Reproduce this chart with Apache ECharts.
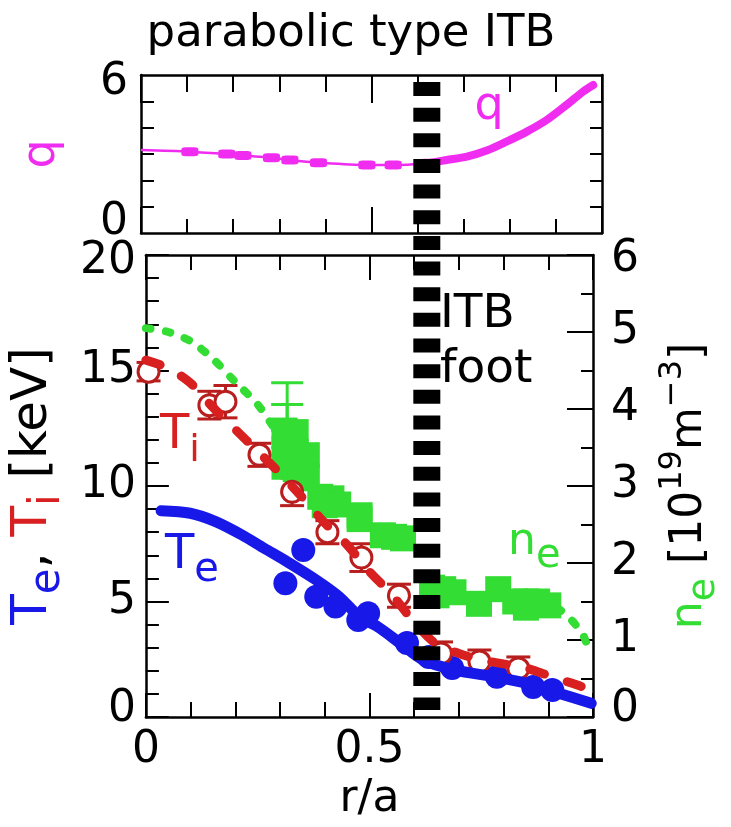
<!DOCTYPE html>
<html>
<head>
<meta charset="utf-8">
<title>parabolic type ITB</title>
<script src="https://cdn.jsdelivr.net/npm/echarts@6/dist/echarts.min.js"></script>
<style>
  html, body { margin: 0; padding: 0; background: #fff; }
  #chart { width: 731px; height: 827px; }
</style>
</head>
<body>
<div id="chart"></div>
<script>
// safety factor q (top panel); points up to the ITB foot, dense fit outside
const qR = [0, 0.106, 0.186, 0.221, 0.283, 0.323, 0.385, 0.49, 0.547, 0.623, 0.663, 0.707, 0.75, 0.793, 0.837, 0.88, 0.923, 0.959, 0.981]
const qV = [3.15, 3.09, 3.0, 2.94, 2.86, 2.77, 2.67, 2.58, 2.58, 2.65, 2.77, 2.9, 3.13, 3.47, 3.85, 4.29, 4.86, 5.37, 5.62]
const qFoot = 9

// electron temperature Te [keV]
const teFitR = [0.034, 0.099, 0.156, 0.215, 0.265, 0.316, 0.381, 0.432, 0.48, 0.518, 0.569, 0.62, 0.692, 0.779, 0.851, 0.923, 0.996]
const teFitV = [8.93, 8.82, 8.46, 7.88, 7.3, 6.72, 5.93, 5.21, 4.3, 3.91, 3.19, 2.47, 2.03, 1.74, 1.46, 1.03, 0.59]
const teR = [0.312, 0.352, 0.381, 0.424, 0.475, 0.497, 0.584, 0.633, 0.685, 0.785, 0.866, 0.909]
const teV = [5.79, 7.23, 5.21, 4.78, 4.2, 4.49, 3.2, 2.6, 2.12, 1.74, 1.3, 1.17]

// ion temperature Ti [keV]
const tiFitR = [0, 0.05, 0.1, 0.15, 0.2, 0.25, 0.3, 0.35, 0.4, 0.45, 0.5, 0.55, 0.6, 0.65, 0.7, 0.75, 0.8, 0.85, 0.9, 0.95, 1.0]
const tiFitV = [15.45, 15.1, 14.45, 13.4, 12.45, 11.5, 10.55, 9.5, 8.4, 7.45, 6.3, 5.3, 4.1, 3.15, 2.75, 2.47, 2.3, 2.12, 1.8, 1.48, 1.15]
const tiR = [0.006, 0.142, 0.178, 0.254, 0.327, 0.406, 0.482, 0.566, 0.66, 0.746, 0.833]
const tiV = [14.95, 13.5, 13.65, 11.35, 9.75, 8.0, 6.9, 5.25, 2.75, 2.4, 2.1]
const tiErr = [0.4, 0.6, 0.7, 0.5, 0.6, 0.5, 0.6, 0.5, 0.5, 0.5, 0.5]

// electron density ne [1e19 m^-3]
const neFitCoreR = [0, 0.05, 0.1, 0.15, 0.2, 0.25, 0.29]
const neFitCoreV = [5.05, 5.0, 4.88, 4.65, 4.35, 4.06, 3.72]
const neFitEdgeR = [0.92, 0.945, 0.965, 0.98, 0.993]
const neFitEdgeV = [1.42, 1.3, 1.17, 1.04, 0.83]
const neR = [0.31, 0.335, 0.31, 0.335, 0.31, 0.335, 0.36, 0.36, 0.345, 0.39, 0.415, 0.43, 0.40, 0.478, 0.478, 0.53, 0.555, 0.575, 0.64, 0.665, 0.688, 0.65, 0.745, 0.788, 0.826, 0.85, 0.875, 0.90, 0.85]
const neV = [3.72, 3.70, 3.48, 3.45, 3.25, 3.22, 3.40, 3.12, 3.10, 2.86, 2.84, 2.76, 2.75, 2.62, 2.57, 2.36, 2.34, 2.32, 1.68, 1.66, 1.62, 1.58, 1.47, 1.66, 1.5, 1.5, 1.5, 1.45, 1.42]
const neBarR = [0.316, 0.316]
const neBarLo = [3.72, 3.5]
const neBarHi = [4.34, 4.06]

const itbFoot = 0.62

const FONT = 'DejaVu Sans'
const MAGENTA = '#f02cf0'
const RED = '#d82020'
const DARKRED = '#b81e1e'
const BLUE = '#1818e8'
const GREEN = '#33dd33'

function pairs(xs, ys) {
  return xs.map((x, i) => [x, ys[i]])
}

const axisLine = { onZero: false, lineStyle: { color: '#000', width: 2.5 } }
const tickLine = { color: '#000', width: 2 }

function xFrame(gridIndex, position, showLabel, major, minor) {
  return {
    type: 'value', gridIndex, position, min: 0, max: 1, interval: 0.5,
    axisLine,
    axisTick: { inside: true, length: major, lineStyle: tickLine },
    minorTick: { show: true, splitNumber: 5, length: minor, lineStyle: tickLine },
    splitLine: { show: false },
    axisLabel: { show: showLabel, fontFamily: FONT, fontSize: 44, color: '#000', margin: 12 }
  }
}

function yFrame(gridIndex, position, opts) {
  return Object.assign({
    type: 'value', gridIndex, position,
    axisLine,
    splitLine: { show: false }
  }, opts)
}

function edgeLabels(top, bottom) {
  const base = { fontFamily: FONT, fontSize: 44, color: '#000' }
  return {
    hi: Object.assign({ padding: [top, 0, 0, 0] }, base),
    lo: Object.assign({ padding: [0, 0, bottom, 0] }, base)
  }
}

function errorBars(capHalf, width) {
  return function (params, api) {
    const x = api.value(0)
    const lo = api.coord([x, api.value(1)])
    const hi = api.coord([x, api.value(2)])
    const style = { stroke: api.visual('color'), lineWidth: width }
    return {
      type: 'group',
      children: [
        { type: 'line', shape: { x1: lo[0], y1: lo[1], x2: hi[0], y2: hi[1] }, style },
        { type: 'line', shape: { x1: hi[0] - capHalf, y1: hi[1], x2: hi[0] + capHalf, y2: hi[1] }, style },
        { type: 'line', shape: { x1: lo[0] - capHalf, y1: lo[1], x2: lo[0] + capHalf, y2: lo[1] }, style }
      ]
    }
  }
}

const chart = echarts.init(document.getElementById('chart'))

chart.setOption({
  animation: false,
  backgroundColor: '#fff',
  grid: [
    { left: 141, width: 461, top: 75, height: 158 },
    { left: 141, width: 461, top: 255, height: 462 },
    { left: 141, width: 461, top: 82, height: 628 }
  ],
  xAxis: [
    xFrame(0, 'bottom', false, 26, 14),
    xFrame(0, 'top', false, 28, 17),
    Object.assign(xFrame(1, 'bottom', true, 24, 15), {
      name: 'r/a', nameLocation: 'middle', nameGap: 58,
      nameTextStyle: { fontFamily: FONT, fontSize: 44, color: '#000' }
    }),
    xFrame(1, 'top', false, 25, 15),
    { type: 'value', gridIndex: 2, min: 0, max: 1, show: false }
  ],
  yAxis: [
    yFrame(0, 'left', {
      min: 0, max: 6, interval: 6,
      axisTick: { show: false, inside: true },
      minorTick: { show: true, splitNumber: 6, length: 13, lineStyle: tickLine },
      axisLabel: {
        margin: 13, fontFamily: FONT, fontSize: 44, color: '#000',
        formatter: v => (v === 6 ? '{hi|6}' : '{lo|0}'),
        rich: edgeLabels(16, 21)
      },
      name: 'q', nameLocation: 'middle', nameRotate: 90, nameGap: 76,
      nameTextStyle: { fontFamily: FONT, fontSize: 46, color: MAGENTA }
    }),
    yFrame(0, 'right', {
      min: 0, max: 6, interval: 6,
      axisTick: { show: false, inside: true },
      minorTick: { show: true, splitNumber: 6, length: 12, lineStyle: tickLine },
      axisLabel: { show: false }
    }),
    yFrame(1, 'left', {
      min: 0, max: 20, interval: 5,
      axisTick: { inside: true, length: 23, lineStyle: tickLine },
      minorTick: { show: true, splitNumber: 5, length: 13, lineStyle: tickLine },
      axisLabel: {
        margin: 10, fontFamily: FONT, fontSize: 44, color: '#000',
        formatter: v => (v === 20 ? '{hi|20}' : v === 0 ? '{lo|0}' : String(v)),
        rich: edgeLabels(14, 14)
      },
      name: '{b|T}{bs|e}{k|, }{r|T}{rs|i}{k| [keV]}',
      nameLocation: 'middle', nameRotate: 90, nameGap: 72,
      nameTextStyle: {
        fontFamily: FONT, fontSize: 50,
        rich: {
          b: { fontFamily: FONT, fontSize: 50, color: BLUE },
          bs: { fontFamily: FONT, fontSize: 42, color: BLUE, padding: [30, 0, 0, 0] },
          r: { fontFamily: FONT, fontSize: 50, color: RED },
          rs: { fontFamily: FONT, fontSize: 42, color: RED, padding: [30, 0, 0, 0] },
          k: { fontFamily: FONT, fontSize: 50, color: '#000' }
        }
      }
    }),
    yFrame(1, 'right', {
      min: 0, max: 6, interval: 1,
      axisTick: { inside: true, length: 26, lineStyle: tickLine },
      minorTick: { show: true, splitNumber: 2, length: 12, lineStyle: tickLine },
      axisLabel: {
        margin: 18, fontFamily: FONT, fontSize: 44, color: '#000',
        formatter: v => (v === 6 ? '{hi|6}' : v === 0 ? '{lo|0}' : String(v)),
        rich: edgeLabels(10, 14)
      },
      name: '{g|n}{gs|e}{k| [10}{sup|19}{k|m}{sup|−3}{k|]}',
      nameLocation: 'middle', nameRotate: 90, nameGap: 64,
      nameTextStyle: {
        fontFamily: FONT, fontSize: 44,
        rich: {
          g: { fontFamily: FONT, fontSize: 44, color: GREEN },
          gs: { fontFamily: FONT, fontSize: 38, color: GREEN, padding: [28, 0, 0, 0] },
          k: { fontFamily: FONT, fontSize: 44, color: '#000' },
          sup: { fontFamily: FONT, fontSize: 32, color: '#000', padding: [0, 0, 34, 0] }
        }
      }
    }),
    { type: 'value', gridIndex: 2, min: 0, max: 1, show: false }
  ],
  series: [
    {
      type: 'line', xAxisIndex: 0, yAxisIndex: 0, smooth: 0.3, symbol: 'none',
      data: pairs(qR, qV).slice(0, qFoot + 1),
      lineStyle: { color: MAGENTA, width: 2.5 }
    },
    {
      type: 'scatter', xAxisIndex: 0, yAxisIndex: 0, symbol: 'roundRect', symbolSize: [17, 9],
      data: pairs(qR, qV).slice(1, qFoot + 1),
      itemStyle: { color: MAGENTA, opacity: 1 }
    },
    {
      type: 'line', xAxisIndex: 0, yAxisIndex: 0, smooth: 0.3, symbol: 'none',
      data: pairs(qR, qV).slice(qFoot),
      lineStyle: { color: MAGENTA, width: 8, cap: 'round' }
    },
    {
      type: 'line', xAxisIndex: 2, yAxisIndex: 3, smooth: 0.3, symbol: 'none',
      data: pairs(neFitCoreR, neFitCoreV),
      lineStyle: { color: GREEN, width: 8, type: [5, 15], cap: 'round' }
    },
    {
      type: 'line', xAxisIndex: 2, yAxisIndex: 3, smooth: 0.3, symbol: 'none',
      data: pairs(neFitEdgeR, neFitEdgeV),
      lineStyle: { color: GREEN, width: 8, type: [5, 15], cap: 'round' }
    },
    {
      type: 'custom', xAxisIndex: 2, yAxisIndex: 3,
      renderItem: errorBars(16, 3),
      data: neBarR.map((r, i) => [r, neBarLo[i], neBarHi[i]]),
      itemStyle: { color: GREEN }
    },
    {
      type: 'scatter', xAxisIndex: 2, yAxisIndex: 3, symbol: 'rect', symbolSize: 26,
      data: pairs(neR, neV),
      itemStyle: { color: GREEN, opacity: 1 }
    },
    {
      type: 'line', xAxisIndex: 2, yAxisIndex: 2, smooth: 0.3, symbol: 'none',
      data: pairs(teFitR, teFitV),
      lineStyle: { color: BLUE, width: 11, cap: 'round' }
    },
    {
      type: 'scatter', xAxisIndex: 2, yAxisIndex: 2, symbol: 'circle', symbolSize: 24,
      data: pairs(teR, teV),
      itemStyle: { color: BLUE, opacity: 1 }
    },
    {
      type: 'line', xAxisIndex: 2, yAxisIndex: 2, smooth: 0.3, symbol: 'none',
      data: pairs(tiFitR, tiFitV),
      lineStyle: { color: RED, width: 9, type: [15, 24], cap: 'round' }
    },
    {
      type: 'custom', xAxisIndex: 2, yAxisIndex: 2,
      renderItem: errorBars(12, 3),
      data: tiR.map((r, i) => [r, tiV[i] - tiErr[i], tiV[i] + tiErr[i]]),
      itemStyle: { color: DARKRED }
    },
    {
      type: 'scatter', xAxisIndex: 2, yAxisIndex: 2, symbol: 'circle', symbolSize: 21, clip: false,
      data: pairs(tiR, tiV),
      itemStyle: { color: '#fff', borderColor: DARKRED, borderWidth: 3, opacity: 1 }
    },
    {
      type: 'line', xAxisIndex: 4, yAxisIndex: 4, symbol: 'none', z: 10,
      data: [[itbFoot, 1], [itbFoot, 0]],
      lineStyle: { color: '#000', width: 27, type: [14, 11.65], cap: 'butt' }
    }
  ],
  graphic: [
    {
      type: 'text', x: 351, y: 34,
      style: { text: 'parabolic type ITB', fontFamily: FONT, fontSize: 45, fill: '#000', align: 'center', verticalAlign: 'middle' }
    },
    {
      type: 'text', x: 489, y: 107,
      style: { text: 'q', fontFamily: FONT, fontSize: 46, fill: MAGENTA, align: 'center', verticalAlign: 'middle' }
    },
    {
      type: 'text', x: 440, y: 315,
      style: { text: 'ITB', fontFamily: FONT, fontSize: 47, fill: '#000', align: 'left', verticalAlign: 'middle' }
    },
    {
      type: 'text', x: 440, y: 370,
      style: { text: 'foot', fontFamily: FONT, fontSize: 47, fill: '#000', align: 'left', verticalAlign: 'middle' }
    },
    {
      type: 'text', x: 160, y: 436,
      style: {
        text: '{m|T}{s|i}', align: 'left', verticalAlign: 'middle',
        rich: {
          m: { fontFamily: FONT, fontSize: 48, fill: RED },
          s: { fontFamily: FONT, fontSize: 38, fill: RED, padding: [30, 0, 0, 0] }
        }
      }
    },
    {
      type: 'text', x: 165, y: 556,
      style: {
        text: '{m|T}{s|e}', align: 'left', verticalAlign: 'middle',
        rich: {
          m: { fontFamily: FONT, fontSize: 48, fill: BLUE },
          s: { fontFamily: FONT, fontSize: 40, fill: BLUE, padding: [30, 0, 0, 0] }
        }
      }
    },
    {
      type: 'text', x: 508, y: 543,
      style: {
        text: '{m|n}{s|e}', align: 'left', verticalAlign: 'middle',
        rich: {
          m: { fontFamily: FONT, fontSize: 44, fill: GREEN },
          s: { fontFamily: FONT, fontSize: 40, fill: GREEN, padding: [28, 0, 0, 0] }
        }
      }
    }
  ]
})
</script>
</body>
</html>
